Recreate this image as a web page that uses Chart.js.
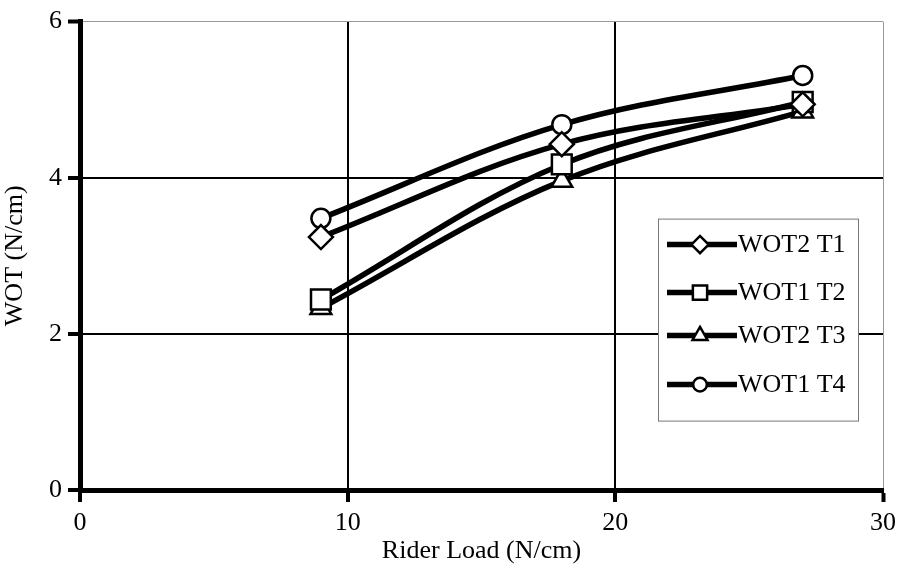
<!DOCTYPE html>
<html>
<head>
<meta charset="utf-8">
<script src="https://cdn.jsdelivr.net/npm/chart.js@4.4.1/dist/chart.umd.min.js"></script>
<style>
  html, body { margin: 0; padding: 0; background: #fff; }
  #wrap { width: 902px; height: 571px; }
</style>
</head>
<body>
<div id="wrap"><canvas id="c" width="902" height="571"></canvas></div>
<script>
"use strict";

// Rider Load (N/cm)
const LOADS = [9, 18, 27];
// WOT (N/cm) per series
const WOT2_T1 = [3.24, 4.43, 4.94];
const WOT1_T2 = [2.44, 4.17, 4.97];
const WOT2_T3 = [2.33, 3.96, 4.85];
const WOT1_T4 = [3.48, 4.68, 5.31];

const SERIES = [
  { label: "WOT2 T1", values: WOT2_T1, style: "rectRot", radius: 12 },
  { label: "WOT1 T2", values: WOT1_T2, style: "rect", radius: 14 },
  { label: "WOT2 T3", values: WOT2_T3, style: "triangle", radius: 12 },
  { label: "WOT1 T4", values: WOT1_T4, style: "circle", radius: 9.5 },
];

const FONT = "'Liberation Serif', 'Times New Roman', serif";

function pts(values) {
  return LOADS.map((x, i) => ({ x, y: values[i] }));
}

// 凡例はグラフ内右側の白い箱に描く
const boxLegend = {
  id: "boxLegend",
  afterDatasetsDraw(chart) {
    const ctx = chart.ctx;
    const a = chart.chartArea;
    const x0 = a.left + 578, y0 = a.top + 197, w = 200, h = 202;
    ctx.save();
    ctx.fillStyle = "#fff";
    ctx.fillRect(x0, y0, w, h);
    ctx.strokeStyle = "#777";
    ctx.lineWidth = 1;
    ctx.strokeRect(x0 + 0.5, y0 + 0.5, w, h);
    const rows = [26, 74, 117, 166];
    SERIES.forEach((s, i) => {
      const y = y0 + rows[i];
      ctx.strokeStyle = "#000";
      ctx.lineWidth = 5.5;
      ctx.beginPath();
      ctx.moveTo(x0 + 9, y);
      ctx.lineTo(x0 + 79, y);
      ctx.stroke();
      ctx.fillStyle = "#fff";
      ctx.lineWidth = 2.5;
      Chart.helpers.drawPoint(ctx, { pointStyle: s.style, radius: s.radius * 0.72, rotation: 0, borderWidth: 2.5 }, x0 + 42, y);
      ctx.fillStyle = "#000";
      ctx.font = "26px " + FONT;
      ctx.textBaseline = "middle";
      ctx.textAlign = "left";
      ctx.fillText(s.label, x0 + 80, y + 1);
    });
    ctx.restore();
  },
};

const datasets = SERIES.map((s) => ({
  label: s.label,
  data: pts(s.values),
  borderColor: "#000",
  borderWidth: 5.5,
  tension: 0.35,
  pointStyle: s.style,
  pointRadius: s.radius,
  pointBackgroundColor: "#fff",
  pointBorderColor: "#000",
  pointBorderWidth: 2.5,
  fill: false,
}));

new Chart(document.getElementById("c"), {
  type: "line",
  data: { datasets },
  options: {
    responsive: false,
    animation: false,
    layout: { padding: { top: 18, right: 18, left: 0, bottom: 0 } },
    plugins: { legend: { display: false }, tooltip: { enabled: false } },
    scales: {
      x: {
        type: "linear",
        min: 0, max: 30,
        ticks: { stepSize: 10, color: "#000", font: { family: FONT, size: 26 }, padding: 6 },
        grid: {
          color: (c) => (c.tick.value === 30 ? "#999" : "#000"),
          lineWidth: (c) => (c.tick.value === 30 ? 1 : 2),
          tickColor: "#000", tickWidth: 4, tickLength: 12,
        },
        border: { color: "#000", width: 5 },
        title: { display: true, text: "Rider Load (N/cm)", color: "#000", font: { family: FONT, size: 26 }, padding: { top: 0, bottom: 4 } },
        afterFit: (s) => { s.height = 81; },
      },
      y: {
        min: 0, max: 6,
        ticks: { stepSize: 2, color: "#000", font: { family: FONT, size: 26 }, padding: 6 },
        grid: {
          color: (c) => (c.tick.value === 6 ? "#999" : "#000"),
          lineWidth: (c) => (c.tick.value === 6 ? 1 : 2),
          tickColor: "#000", tickWidth: 4, tickLength: 12,
        },
        border: { color: "#000", width: 5 },
        title: { display: true, text: "WOT (N/cm)", color: "#000", font: { family: FONT, size: 26 }, padding: { top: 0, bottom: 0 } },
        afterFit: (s) => { s.width = 80; },
      },
    },
  },
  plugins: [boxLegend],
});
</script>
</body>
</html>
